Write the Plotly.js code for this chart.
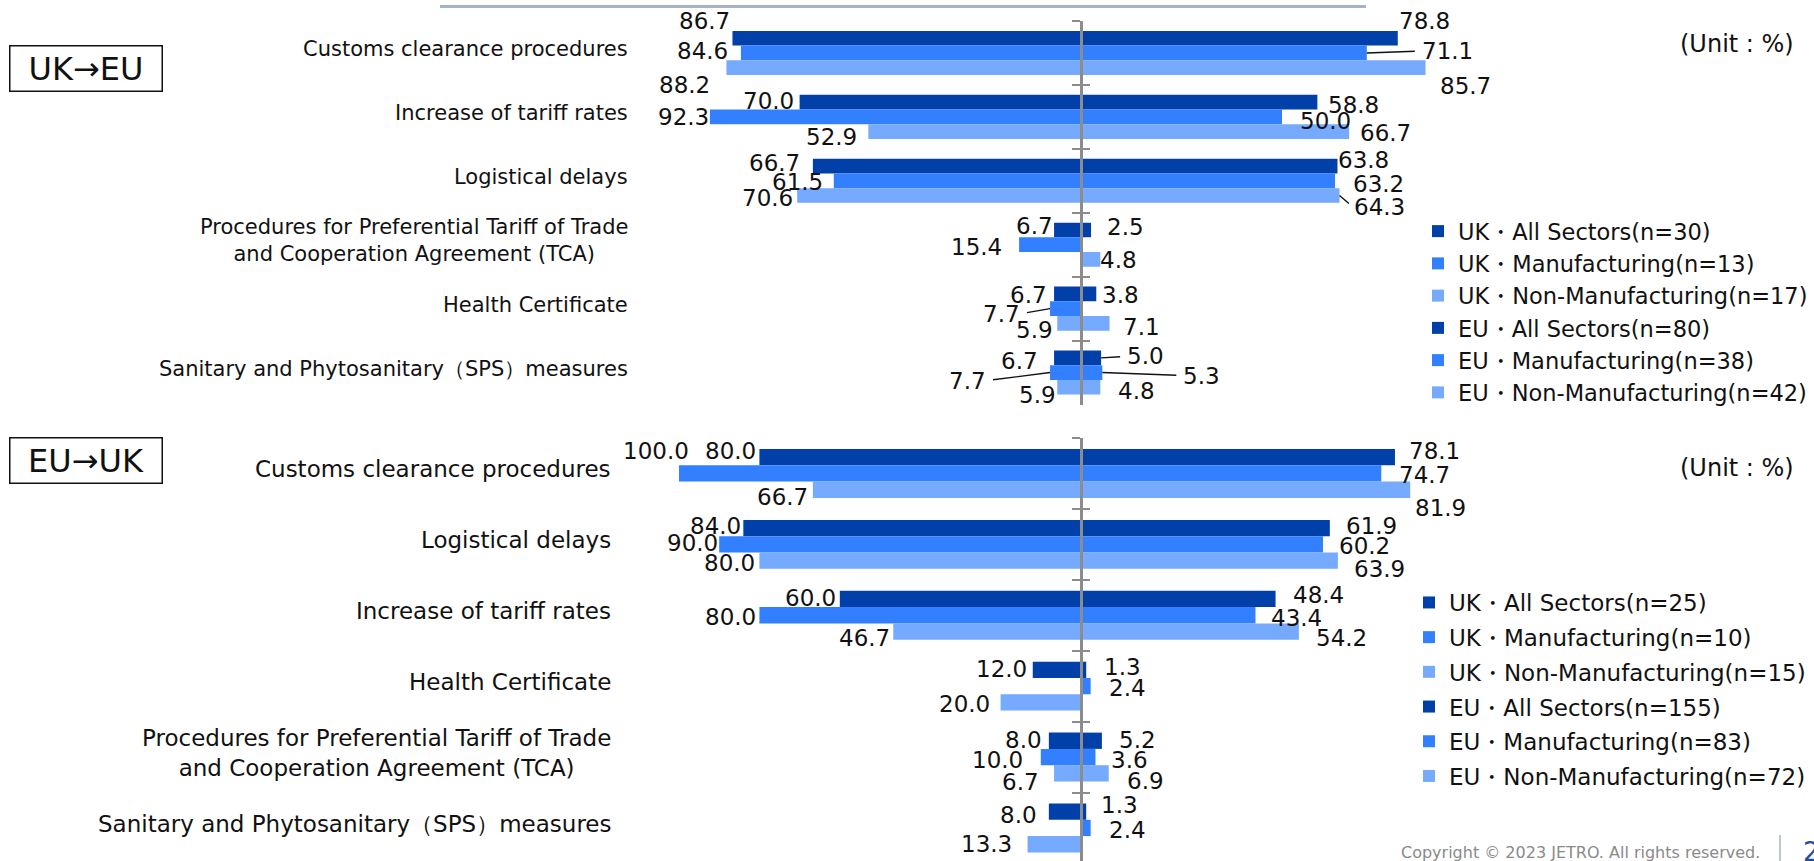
<!DOCTYPE html>
<html>
<head>
<meta charset="utf-8">
<script src="https://cdn.plot.ly/plotly-3.0.1.min.js"></script>
<style>
  html, body { margin: 0; padding: 0; background: #ffffff; overflow: hidden; width: 1814px; height: 861px; }
  #chart { width: 1814px; height: 861px; overflow: hidden; }
</style>
</head>
<body>
<div id="chart"></div>
<script>
// ---- UK -> EU panel -------------------------------------------------------
const topCategories = [
  'Customs clearance procedures',
  'Increase of tariff rates',
  'Logistical delays',
  'Procedures for Preferential Tariff of Trade<br>and Cooperation Agreement (TCA)',
  'Health Certificate',
  'Sanitary and Phytosanitary（SPS）measures'
];
const topUkAll = [86.7, 70.0, 66.7, 6.7, 6.7, 6.7];
const topUkMfg = [84.6, 92.3, 61.5, 15.4, 7.7, 7.7];
const topUkNon = [88.2, 52.9, 70.6, 0, 5.9, 5.9];
const topEuAll = [78.8, 58.8, 63.8, 2.5, 3.8, 5.0];
const topEuMfg = [71.1, 50.0, 63.2, 0, 0, 5.3];
const topEuNon = [85.7, 66.7, 64.3, 4.8, 7.1, 4.8];
const topNames = [
  'UK・All Sectors(n=30)', 'UK・Manufacturing(n=13)', 'UK・Non-Manufacturing(n=17)',
  'EU・All Sectors(n=80)', 'EU・Manufacturing(n=38)', 'EU・Non-Manufacturing(n=42)'
];

// ---- EU -> UK panel -------------------------------------------------------
const bottomCategories = [
  'Customs clearance procedures',
  'Logistical delays',
  'Increase of tariff rates',
  'Health Certificate',
  'Procedures for Preferential Tariff of Trade<br>and Cooperation Agreement (TCA)',
  'Sanitary and Phytosanitary（SPS）measures'
];
const bottomUkAll = [80.0, 84.0, 60.0, 12.0, 8.0, 8.0];
const bottomUkMfg = [100.0, 90.0, 80.0, 0, 10.0, 0];
const bottomUkNon = [66.7, 80.0, 46.7, 20.0, 6.7, 13.3];
const bottomEuAll = [78.1, 61.9, 48.4, 1.3, 5.2, 1.3];
const bottomEuMfg = [74.7, 60.2, 43.4, 2.4, 3.6, 2.4];
const bottomEuNon = [81.9, 63.9, 54.2, 0, 6.9, 0];
const bottomNames = [
  'UK・All Sectors(n=25)', 'UK・Manufacturing(n=10)', 'UK・Non-Manufacturing(n=15)',
  'EU・All Sectors(n=155)', 'EU・Manufacturing(n=83)', 'EU・Non-Manufacturing(n=72)'
];

// ---- styling ---------------------------------------------------------------
const W = 1814, H = 861;
const FONT = 'DejaVu Sans, Verdana, sans-serif';
const COLORS = ['#0040a8', '#3280ff', '#75aaff'];
const GROUPS = ['all', 'mfg', 'non'];
const BARGAP = 0.31;
const AXIS_GREY = '#8c8c8c';
const px = v => v / W;            // horizontal pixel -> paper fraction
const py = v => 1 - v / H;        // vertical pixel -> paper fraction

const X_DOMAIN = [px(638.8), px(1523.2)];
const X_RANGE = [-110, 110];
const ZERO_POS = (X_DOMAIN[0] + X_DOMAIN[1]) / 2;
const TOP_DOMAIN = [py(404.5), py(21)];
const BOTTOM_DOMAIN = [0, py(438)];
const TOP_RANGE = [5.5, -0.5];
const BOTTOM_RANGE = [5.466, -0.5];

// Pixel nudges for the value labels: [dx, dy] from the bar end / bar centre.
// Order: side (uk, eu) -> series (all, mfg, non) -> category.
const TOP_NUDGE = {
  uk: [
    [[-1, -17], [-5, -1], [-12, -3.5], [0, -4], [-6, 1], [-15, 3.5]],
    [[-12, -2], [0, 0], [-10, 1.5], [-16, 2], [-29, 5], [-63, 8]],
    [[-15, 17], [-10, 5], [-3.5, 3], [0, 0], [-3, 7], [0, 8]]
  ],
  eu: [
    [[0, -17], [10, 3], [0, -6], [15, -3.5], [5, 1], [25, -1.5]],
    [[54, -2], [17, 4], [17, 3.5], [0, 0], [0, 0], [80, 3]],
    [[13, 18], [10, 1.5], [14, 12], [-1, 1], [12, 4], [17, 4]]
  ]
};
const BOTTOM_NUDGE = {
  uk: [
    [[-2.5, -6], [-1, -2], [-3, -1], [-5, -1], [-5.5, -1], [-10.5, 3]],
    [[11, -22.5], [0, -1], [-2.5, 2], [0, 0], [-17, 3], [0, 0]],
    [[-4, 7], [-3.5, 2], [-2.6, 6], [-10, 1.5], [-14, 8.6], [-15, 0]]
  ],
  eu: [
    [[13, -6], [15, -2], [16, -4], [16.5, -3], [16.5, -1], [14, -6.7]],
    [[16.5, 1.5], [15, 1.6], [15, 3], [17, 2], [15, 3], [17, 2]],
    [[3.5, 18], [15, 8], [16, 6], [0, 0], [17, 7.6], [0, 0]]
  ]
};
// Labels joined to their bar by a leader line: [side, series, category]
const TOP_LEADERS = [['uk', 1, 4], ['uk', 1, 5], ['eu', 1, 0], ['eu', 2, 2], ['eu', 0, 5], ['eu', 1, 5]];
const BOTTOM_LEADERS = [];

function buildPanel(opt) {
  const traces = [];
  const notes = [];
  const barThick = (1 - BARGAP) / 3;
  const sides = { uk: opt.uk, eu: opt.eu };
  ['uk', 'eu'].forEach((side, k) => {
    const sign = side === 'uk' ? -1 : 1;
    sides[side].forEach((vals, s) => {
      traces.push({
        type: 'bar',
        orientation: 'h',
        y: opt.categories,
        x: vals.map(v => sign * v),
        xaxis: opt.xaxis,
        // UK bars sit on the left-ticked axis, EU bars on the right-ticked twin
        yaxis: side === 'uk' ? opt.yaxis : opt.yaxisTwin,
        name: opt.names[k * 3 + s],
        legend: opt.legend,
        legendgroup: opt.legend + side + s,
        offsetgroup: GROUPS[s],
        marker: { color: COLORS[s], line: { width: 0 } },
        hoverinfo: 'skip'
      });
      vals.forEach((v, c) => {
        if (!(v > 0)) return;
        const [dx, dy] = opt.nudge[side][s][c];
        const isLeader = opt.leaders.some(l => l[0] === side && l[1] === s && l[2] === c);
        const note = {
          xref: opt.xaxis, yref: opt.yaxis,
          x: sign * v,
          y: c + (s - 1) * barThick,
          text: v.toFixed(1),
          font: { family: FONT, size: 23, color: '#111111' },
          xanchor: side === 'uk' ? 'right' : 'left',
          yanchor: 'middle',
          borderpad: 0
        };
        if (isLeader) {
          Object.assign(note, {
            showarrow: true, arrowhead: 0, arrowwidth: 1.4, arrowcolor: '#111111',
            ax: dx, ay: dy, startstandoff: 6, standoff: 0
          });
        } else {
          Object.assign(note, { showarrow: false, xshift: dx, yshift: -dy });
        }
        notes.push(note);
      });
    });
  });
  // category labels on the left
  opt.categories.forEach((cat, c) => {
    notes.push({
      xref: 'paper', yref: opt.yaxis,
      x: px(opt.labelRight), y: c,
      text: cat, showarrow: false,
      xanchor: 'right', yanchor: 'middle', align: 'center', yshift: 4,
      font: { family: FONT, size: opt.labelSize, color: '#111111' }
    });
  });
  return { traces, notes };
}

const topPanel = buildPanel({
  categories: topCategories,
  uk: [topUkAll, topUkMfg, topUkNon],
  eu: [topEuAll, topEuMfg, topEuNon],
  names: topNames, xaxis: 'x', yaxis: 'y', yaxisTwin: 'y3', legend: 'legend',
  nudge: TOP_NUDGE, leaders: TOP_LEADERS, labelRight: 630, labelSize: 21
});
const bottomPanel = buildPanel({
  categories: bottomCategories,
  uk: [bottomUkAll, bottomUkMfg, bottomUkNon],
  eu: [bottomEuAll, bottomEuMfg, bottomEuNon],
  names: bottomNames, xaxis: 'x2', yaxis: 'y2', yaxisTwin: 'y4', legend: 'legend2',
  nudge: BOTTOM_NUDGE, leaders: BOTTOM_LEADERS, labelRight: 613, labelSize: 23
});

// Category axis drawn as the centre spine: tick marks sit on category boundaries
function centreAxis(cats, domain, range, ticks, withLine, extra) {
  return Object.assign({
    type: 'category', categoryorder: 'array', categoryarray: cats, range: range,
    anchor: 'free', position: ZERO_POS, side: 'left',
    tickson: 'boundaries', ticks: ticks, ticklen: 8, tickwidth: 2, tickcolor: AXIS_GREY,
    showline: withLine, linecolor: AXIS_GREY, linewidth: 2.5, layer: 'above traces',
    showticklabels: false, showgrid: false, zeroline: false, fixedrange: true
  }, domain ? { domain: domain } : {}, extra || {});
}
const hiddenX = anchor => ({
  domain: X_DOMAIN, range: X_RANGE, anchor: anchor, visible: false, fixedrange: true
});
const legendBox = (x, y, size, gap) => ({
  x: px(x), y: py(y), xanchor: 'left', yanchor: 'top',
  bgcolor: 'rgba(0,0,0,0)', borderwidth: 0, traceorder: 'grouped',
  tracegroupgap: gap, itemclick: false, itemdoubleclick: false,
  font: { family: FONT, size: size, color: '#111111' }
});

const headerNotes = [
  { text: 'UK→EU', y: py(68) },
  { text: 'EU→UK', y: py(460) }
].map(b => ({
  xref: 'paper', yref: 'paper', x: px(85.5), y: b.y, text: b.text, showarrow: false,
  xanchor: 'center', yanchor: 'middle', width: 147, height: 40, borderpad: 2,
  bordercolor: '#111111', borderwidth: 1.5, bgcolor: '#ffffff',
  font: { family: FONT, size: 32, color: '#111111' }
}));
const unitNotes = [44, 467.5].map(y => ({
  xref: 'paper', yref: 'paper', x: px(1678), y: py(y), text: '(Unit : %)',
  showarrow: false, xanchor: 'left', yanchor: 'middle',
  font: { family: FONT, size: 24, color: '#111111' }
}));
const footerNotes = [
  {
    xref: 'paper', yref: 'paper', x: px(1762), y: py(852), text: 'Copyright © 2023 JETRO. All rights reserved.',
    showarrow: false, xanchor: 'right', yanchor: 'middle',
    font: { family: FONT, size: 16, color: '#8a8a8a' }
  },
  {
    xref: 'paper', yref: 'paper', x: px(1801), y: py(852), text: '2',
    showarrow: false, xanchor: 'left', yanchor: 'middle',
    font: { family: FONT, size: 26, color: '#1f4e9c' }
  }
];

const layout = {
  width: W, height: H, autosize: false,
  margin: { l: 0, r: 0, t: 0, b: 0, pad: 0 },
  paper_bgcolor: '#ffffff', plot_bgcolor: 'rgba(0,0,0,0)',
  barmode: 'group', bargap: BARGAP, bargroupgap: 0,
  showlegend: true,
  xaxis: hiddenX('y'),
  xaxis2: hiddenX('y2'),
  yaxis: centreAxis(topCategories, TOP_DOMAIN, TOP_RANGE, 'outside', true),
  yaxis2: centreAxis(bottomCategories, BOTTOM_DOMAIN, BOTTOM_RANGE, 'outside', true),
  yaxis3: centreAxis(topCategories, null, TOP_RANGE, 'inside', false, { overlaying: 'y' }),
  yaxis4: centreAxis(bottomCategories, null, BOTTOM_RANGE, 'inside', false, { overlaying: 'y2' }),
  legend: legendBox(1418, 210, 22.5, 0),
  legend2: legendBox(1409, 581, 23, 1.8),
  annotations: [].concat(topPanel.notes, bottomPanel.notes, headerNotes, unitNotes, footerNotes),
  shapes: [
    { type: 'line', xref: 'paper', yref: 'paper', x0: px(440), x1: px(1366), y0: py(6.5), y1: py(6.5),
      line: { color: '#a9b3c6', width: 3 } },
    { type: 'line', xref: 'paper', yref: 'paper', x0: px(1780), x1: px(1780), y0: py(835), y1: py(861),
      line: { color: '#a9b3c6', width: 1.5 } }
  ]
};

Plotly.newPlot('chart', topPanel.traces.concat(bottomPanel.traces), layout,
  { displayModeBar: false, staticPlot: true });
</script>
</body>
</html>
